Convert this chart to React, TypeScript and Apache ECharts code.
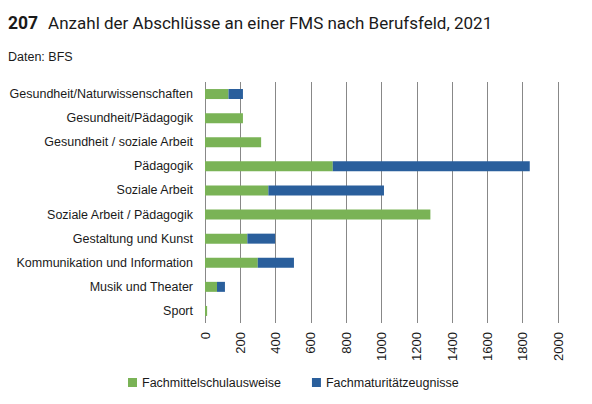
import React, { useEffect, useRef } from "react";
import * as echarts from "echarts";

const categories = [
  "Gesundheit/Naturwissenschaften",
  "Gesundheit/Pädagogik",
  "Gesundheit / soziale Arbeit",
  "Pädagogik",
  "Soziale Arbeit",
  "Soziale Arbeit / Pädagogik",
  "Gestaltung und Kunst",
  "Kommunikation und Information",
  "Musik und Theater",
  "Sport",
];
const fachmittelschulausweise = [133, 215, 318, 724, 359, 1277, 240, 299, 68, 12];
const fachmaturitaetszeugnisse = [82, 0, 0, 1116, 655, 0, 157, 205, 45, 0];
const seriesNames = ["Fachmittelschulausweise", "Fachmaturitätzeugnisse"];
const colors = ["#7ab356", "#2a5f9c"];
const xMax = 2000;
const xInterval = 200;

const FONT = "Liberation Sans, Arial, sans-serif";
const TITLE_FONT = "Roboto, Liberation Sans, sans-serif";

export default function App() {
  const ref = useRef<HTMLDivElement>(null);
  useEffect(() => {
    document.body.style.margin = "0";
    const chart = echarts.init(ref.current!, null, { renderer: "svg" });
    chart.setOption({
      animation: false,
      textStyle: { fontFamily: FONT },
      title: [
        {
          left: 8,
          top: 14,
          padding: 0,
          text: "{b|207}  {r|Anzahl der Abschlüsse an einer FMS nach Berufsfeld, 2021}",
          textStyle: {
            fontWeight: "normal",
            rich: {
              b: { fontSize: 17.5, fontWeight: "bold", color: "#1a1a1a", fontFamily: TITLE_FONT },
              r: { fontSize: 17, fontWeight: "normal", color: "#1a1a1a", fontFamily: TITLE_FONT },
            },
          },
        },
        {
          left: 8,
          top: 50,
          padding: 0,
          text: "Daten: BFS",
          textStyle: { fontSize: 12.5, fontWeight: "normal", color: "#1a1a1a", fontFamily: FONT },
        },
      ],
      legend: {
        bottom: 10,
        left: 123,
        itemWidth: 9,
        itemHeight: 9,
        itemGap: 31,
        icon: "rect",
        textStyle: { fontSize: 12.5, color: "#1a1a1a", fontFamily: FONT },
        data: seriesNames,
      },
      grid: { left: 205, right: 34, top: 82, bottom: 81, containLabel: false },
      xAxis: {
        type: "value",
        min: 0,
        max: xMax,
        interval: xInterval,
        axisLine: { show: false },
        axisTick: { show: false },
        axisLabel: {
          rotate: 90,
          fontSize: 13,
          color: "#1a1a1a",
          margin: 9,
          fontFamily: FONT,
          formatter: (v: number) => String(v),
        },
        splitLine: { show: true, lineStyle: { color: "#888888", width: 1 } },
      },
      yAxis: {
        type: "category",
        data: categories,
        inverse: true,
        axisLine: { show: false },
        axisTick: { show: false },
        axisLabel: { fontSize: 12.5, color: "#1a1a1a", margin: 12, fontFamily: FONT },
      },
      series: [
        {
          name: seriesNames[0],
          type: "bar",
          stack: "total",
          data: fachmittelschulausweise,
          itemStyle: { color: colors[0] },
          barWidth: 10,
        },
        {
          name: seriesNames[1],
          type: "bar",
          stack: "total",
          data: fachmaturitaetszeugnisse,
          itemStyle: { color: colors[1] },
          barWidth: 10,
        },
      ],
    });
    return () => chart.dispose();
  }, []);
  return <div ref={ref} style={{ width: 592, height: 404 }} />;
}
